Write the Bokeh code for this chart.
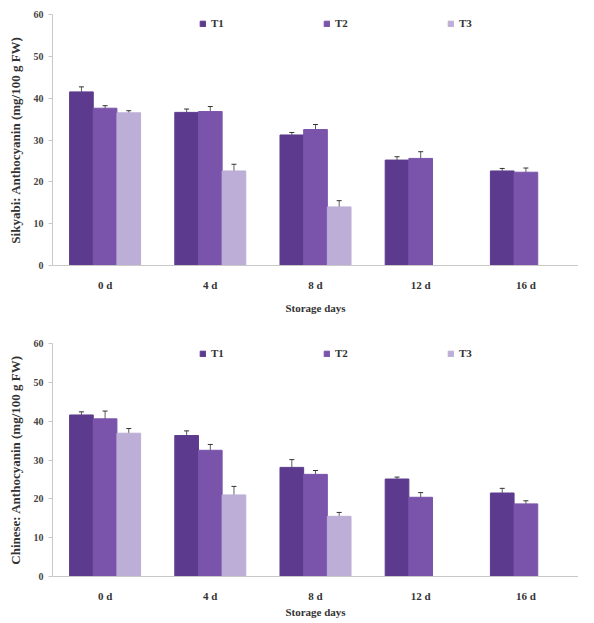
from bokeh.plotting import figure
from bokeh.models import ColumnDataSource, Range1d, Whisker, Legend, LegendItem
from bokeh.layouts import column
from bokeh.transform import dodge
from bokeh.embed import file_html
from bokeh.resources import INLINE

days = ["0 d", "4 d", "8 d", "12 d", "16 d"]
series = ["T1", "T2", "T3"]
colors = ["#5c3b8e", "#7a54ab", "#bcaed6"]

# Sikyabi (top)
sik_t1 = [41.5, 36.6, 31.2, 25.2, 22.6]
sik_t2 = [37.6, 36.8, 32.5, 25.6, 22.3]
sik_t3 = [36.5, 22.6, 14.0, None, None]
sik_e1 = [1.2, 0.8, 0.6, 0.8, 0.6]
sik_e2 = [0.6, 1.2, 1.2, 1.6, 1.0]
sik_e3 = [0.5, 1.6, 1.5, None, None]

# Chinese (bottom)
chi_t1 = [41.6, 36.3, 28.1, 25.1, 21.5]
chi_t2 = [40.6, 32.5, 26.3, 20.4, 18.7]
chi_t3 = [36.9, 21.0, 15.5, None, None]
chi_e1 = [0.8, 1.2, 2.0, 0.5, 1.2]
chi_e2 = [2.0, 1.5, 1.0, 1.2, 0.8]
chi_e3 = [1.2, 2.2, 1.0, None, None]

y_ticks = [0, 10, 20, 30, 40, 50, 60]
FONT = "Liberation Serif"


def make_chart(vals, errs, ylabel, height, top_border, frame_h, leg_y,
               lab_standoff, title_standoff):
    p = figure(x_range=days, y_range=Range1d(0, 60), width=578, height=height,
               output_backend="svg", toolbar_location=None,
               min_border_left=52, min_border_right=0, min_border_top=top_border,
               min_border_bottom=height - top_border - frame_h)
    p.outline_line_color = None
    p.xgrid.grid_line_color = None
    p.ygrid.grid_line_color = None
    offsets = [-0.225, 0.0, 0.225]
    items = []
    for name, v, e, c, off in zip(series, vals, errs, colors, offsets):
        xs = [d for d, val in zip(days, v) if val is not None]
        ys = [val for val in v if val is not None]
        es = [er for er, val in zip(e, v) if val is not None]
        src = ColumnDataSource(dict(x=xs, top=ys,
                                    upper=[a + b for a, b in zip(ys, es)],
                                    lower=[a - b for a, b in zip(ys, es)]))
        r = p.vbar(x=dodge("x", off, range=p.x_range), top="top", width=0.225,
                   source=src, fill_color=c, line_color=c)
        w = Whisker(base=dodge("x", off, range=p.x_range), upper="upper", lower="lower",
                    source=src, line_color="#333333", line_width=0.8)
        w.upper_head.size = 5
        w.lower_head.size = 5
        w.upper_head.line_color = "#333333"
        w.lower_head.line_color = "#333333"
        p.add_layout(w)
        items.append(LegendItem(label=name, renderers=[r]))
    leg = Legend(items=items, orientation="horizontal", location=(147, leg_y),
                 spacing=92, glyph_width=7, glyph_height=7, label_standoff=5,
                 border_line_color=None, background_fill_alpha=0,
                 label_text_font=FONT, label_text_font_style="bold",
                 label_text_font_size="11px", label_text_color="#333333",
                 margin=0, padding=1)
    p.add_layout(leg)
    p.yaxis.ticker = y_ticks
    p.yaxis.axis_label = ylabel
    p.yaxis.axis_label_text_font = FONT
    p.yaxis.axis_label_text_font_style = "bold"
    p.yaxis.axis_label_text_font_size = "13px"
    p.yaxis.axis_label_text_color = "#333333"
    p.yaxis.axis_label_standoff = 8
    p.yaxis.major_label_text_font = FONT
    p.yaxis.major_label_text_font_style = "bold"
    p.yaxis.major_label_text_font_size = "10px"
    p.yaxis.major_label_text_color = "#444444"
    p.yaxis.axis_line_color = "#c8c8c8"
    p.yaxis.major_tick_line_color = "#c8c8c8"
    p.yaxis.major_tick_out = 4
    p.yaxis.major_tick_in = 0
    p.yaxis.minor_tick_line_color = None
    p.xaxis.axis_label = "Storage days"
    p.xaxis.axis_label_text_font = FONT
    p.xaxis.axis_label_text_font_style = "bold"
    p.xaxis.axis_label_text_font_size = "11px"
    p.xaxis.axis_label_text_color = "#333333"
    p.xaxis.axis_label_standoff = title_standoff
    p.xaxis.major_label_text_font = FONT
    p.xaxis.major_label_text_font_style = "bold"
    p.xaxis.major_label_text_font_size = "11px"
    p.xaxis.major_label_text_color = "#333333"
    p.xaxis.major_label_standoff = lab_standoff
    p.xaxis.major_tick_out = 0
    p.xaxis.major_tick_in = 0
    p.xaxis.axis_line_color = "#c8c8c8"
    p.xaxis.major_tick_line_color = None
    p.x_range.range_padding = 0
    return p


top = make_chart([sik_t1, sik_t2, sik_t3], [sik_e1, sik_e2, sik_e3],
                 "Sikyabi: Anthocyanin (mg/100 g FW)", 320, 14, 251, 236, 13, 8)
bottom = make_chart([chi_t1, chi_t2, chi_t3], [chi_e1, chi_e2, chi_e3],
                    "Chinese: Anthocyanin (mg/100 g FW)", 300, 23, 233, 217, 13, 1)

layout = column(top, bottom, spacing=0)
open("out.html", "w").write(file_html(layout, INLINE))
